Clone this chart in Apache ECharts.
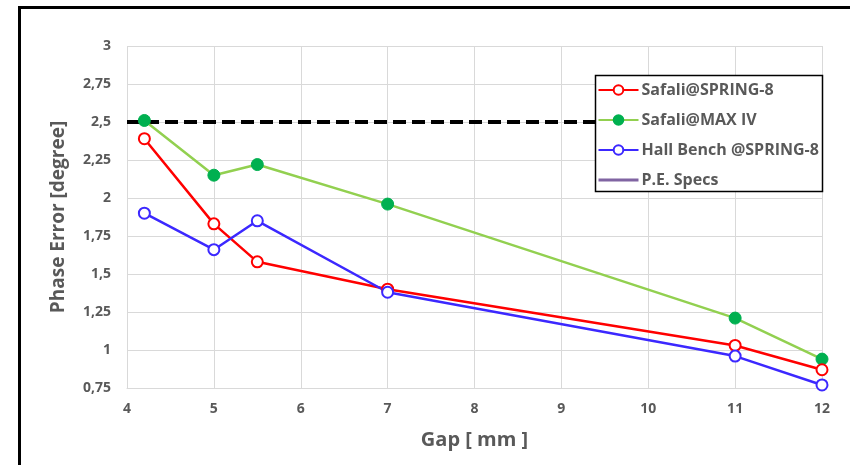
<!DOCTYPE html>
<html><head><meta charset="utf-8">
<script src="https://cdn.jsdelivr.net/npm/echarts@6/dist/echarts.min.js"></script>
<style>html,body{margin:0;padding:0;background:#fff}#c{width:850px;height:465px}</style>
</head><body><div id="c"></div>
<script>
const gaps = [4.2, 5, 5.5, 7, 11, 12];
const safaliSpring8 = [2.39, 1.83, 1.58, 1.40, 1.03, 0.87];
const safaliMaxIV = [2.51, 2.15, 2.22, 1.96, 1.21, 0.94];
const hallBench = [1.90, 1.66, 1.85, 1.38, 0.96, 0.77];
const specX = [4, 12];
const specY = [2.5, 2.5];
const seriesNames = ['Safali@SPRING-8', 'Safali@MAX IV', 'Hall Bench @SPRING-8', 'P.E. Specs'];

const pairs = (xs, ys) => xs.map((x, i) => [x, ys[i]]);
const labelColor = '#595959';
const chart = echarts.init(document.getElementById('c'));
chart.setOption({
  animation: false,
  backgroundColor: '#fff',
  grid: {left: 127, right: 28, top: 46, bottom: 77},
  xAxis: {
    type: 'value', min: 4, max: 12, interval: 1,
    name: 'Gap [ mm ]', nameLocation: 'middle', nameGap: 42,
    nameTextStyle: {color: labelColor, fontSize: 20, fontWeight: 'bold', fontFamily: 'Open Sans'},
    axisLine: {show: true, lineStyle: {color: '#d9d9d9', width: 1}},
    axisTick: {show: false},
    axisLabel: {color: labelColor, fontSize: 14, fontWeight: 'bold', fontFamily: 'Open Sans', margin: 14},
    splitLine: {show: true, lineStyle: {color: '#d9d9d9', width: 1}}
  },
  yAxis: {
    type: 'value', min: 0.75, max: 3, interval: 0.25,
    name: 'Phase Error [degree]', nameLocation: 'middle', nameGap: 59,
    nameTextStyle: {color: labelColor, fontSize: 19, fontWeight: 'bold', fontFamily: 'Open Sans'},
    axisLine: {show: false},
    axisTick: {show: false},
    axisLabel: {color: labelColor, fontSize: 14, fontWeight: 'bold', fontFamily: 'Open Sans', margin: 16,
      formatter: v => String(Math.round(v * 100) / 100).replace('.', ',')},
    splitLine: {show: true, lineStyle: {color: '#d9d9d9', width: 1}}
  },
  legend: {
    orient: 'vertical', left: 597, top: 81,
    padding: 0, itemGap: 12,
    itemWidth: 40, itemHeight: 12,
    textStyle: {color: labelColor, fontSize: 16, fontWeight: 'bold', fontFamily: 'Open Sans', lineHeight: 18, padding: [0, 0, 0, -2]},
    data: [
      {name: seriesNames[0]},
      {name: seriesNames[1]},
      {name: seriesNames[2]},
      {name: seriesNames[3], itemStyle: {color: 'rgba(0,0,0,0)', borderWidth: 0, opacity: 0}, lineStyle: {color: '#8064a2', type: 'solid', width: 3, opacity: 1}}
    ],
    z: 6
  },
  graphic: [
    {type: 'rect', shape: {x: 595.5, y: 75.5, width: 227, height: 116}, style: {fill: '#fff', stroke: '#000', lineWidth: 1.5}, z: 5},
    {type: 'line', shape: {x1: 19.5, y1: 7, x2: 19.5, y2: 465}, style: {stroke: '#000', lineWidth: 3}, z: 100},
    {type: 'line', shape: {x1: 18, y1: 7.5, x2: 850, y2: 7.5}, style: {stroke: '#000', lineWidth: 3}, z: 100}
  ],
  series: [
    {name: seriesNames[3], type: 'line', data: pairs(specX, specY), symbol: 'none',
      lineStyle: {color: '#000', width: 4, type: [13, 6]}, itemStyle: {color: '#000'}, z: 1},
    {name: seriesNames[0], type: 'line', data: pairs(gaps, safaliSpring8), symbol: 'circle', symbolSize: 11,
      lineStyle: {color: '#ff0000', width: 2.5}, itemStyle: {color: '#fff', borderColor: '#ff0000', borderWidth: 2}, z: 3},
    {name: seriesNames[1], type: 'line', data: pairs(gaps, safaliMaxIV), symbol: 'circle', symbolSize: 12,
      lineStyle: {color: '#92d050', width: 2.5}, itemStyle: {color: '#00b050', borderColor: '#00b050', borderWidth: 1}, z: 2},
    {name: seriesNames[2], type: 'line', data: pairs(gaps, hallBench), symbol: 'circle', symbolSize: 11,
      lineStyle: {color: '#3c28ff', width: 2.5}, itemStyle: {color: '#fff', borderColor: '#3c28ff', borderWidth: 2}, z: 3}
  ]
});
</script></body></html>
